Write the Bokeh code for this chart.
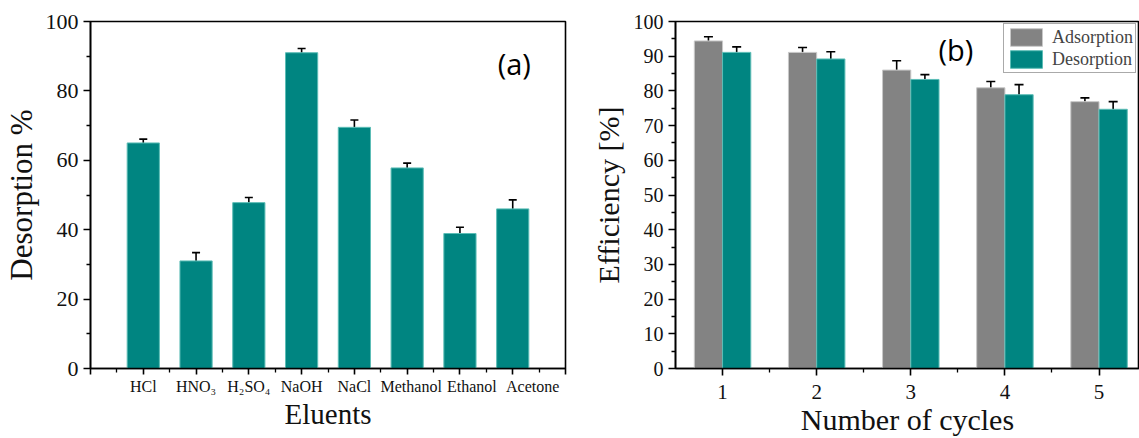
from bokeh.plotting import figure
from bokeh.layouts import row
from bokeh.models import (ColumnDataSource, FixedTicker, Range1d, Whisker, TeeHead,
                          Legend, LegendItem, Label)
from bokeh.embed import file_html
from bokeh.resources import INLINE

# ---------------- data ----------------
eluents = ["HCl", "HNO₃", "H₂SO₄", "NaOH", "NaCl", "Methanol", "Ethanol", "Acetone"]
desorption_pct = [65.0, 31.0, 47.8, 91.0, 69.5, 57.8, 38.9, 46.0]
desorption_err = [1.1, 2.4, 1.5, 1.2, 2.1, 1.4, 1.8, 2.6]

cycles = [1, 2, 3, 4, 5]
adsorption_eff = [94.4, 91.1, 86.0, 80.9, 76.9]
adsorption_err = [1.2, 1.4, 2.7, 1.8, 1.1]
desorption_eff = [91.1, 89.2, 83.3, 78.9, 74.7]
desorption_eff_err = [1.6, 2.1, 1.4, 2.9, 2.2]

TEAL = "#008581"
TEAL_EDGE = "#5cbdb6"
GRAY = "#838383"
GRAY_EDGE = "#c8c8c8"
SERIF = "Liberation Serif"

# leading en-spaces nudge the crowded right-hand labels the way the original does
label_nudge = ["", "", "", "", "", "\u2002", "\u2002\u2002\u2002", "\u2002\u2002\u2002\u2002\u2002"]


def style_axes(p):
    for ax in (p.xaxis[0], p.yaxis[0]):
        ax.axis_line_color = "black"
        ax.axis_line_width = 1.6
        ax.major_tick_line_color = "black"
        ax.major_tick_line_width = 1.6
        ax.minor_tick_line_color = "black"
        ax.minor_tick_line_width = 1.3
        ax.major_tick_in = 0
        ax.major_tick_out = 7
        ax.minor_tick_in = 0
        ax.minor_tick_out = 4
        ax.major_label_text_font = SERIF
        ax.major_label_text_color = "#111111"
        ax.axis_label_text_font = SERIF
        ax.axis_label_text_font_style = "normal"
        ax.axis_label_text_color = "#111111"
    p.xgrid.visible = False
    p.ygrid.visible = False
    p.outline_line_color = "black"
    p.outline_line_width = 1.6
    p.background_fill_color = "white"
    p.border_fill_color = "white"


# ---------------- panel (a) ----------------
xa = list(range(1, len(eluents) + 1))
src_a = ColumnDataSource(dict(
    x=xa, top=desorption_pct,
    upper=[v + e for v, e in zip(desorption_pct, desorption_err)],
    lower=[v - e for v, e in zip(desorption_pct, desorption_err)],
))

p1 = figure(width=570, height=438, output_backend="svg", toolbar_location=None,
            x_range=Range1d(0, 9), y_range=Range1d(0, 100),
            min_border_left=90, min_border_right=5, min_border_top=21, min_border_bottom=66)
p1.vbar(x="x", top="top", width=0.61, bottom=0, source=src_a,
        fill_color=TEAL, line_color=TEAL_EDGE, line_width=1)
p1.add_layout(Whisker(source=src_a, base="x", upper="upper", lower="lower",
                      line_color="black", line_width=1.6,
                      upper_head=TeeHead(size=8, line_width=1.6, line_color="black"),
                      lower_head=TeeHead(size=8, line_width=1.6, line_color="black")))
style_axes(p1)
p1.xaxis.ticker = FixedTicker(ticks=list(range(0, 10)),
                              minor_ticks=[i + 0.5 for i in range(0, 9)])
overrides = {0: "", 9: ""}
for i, name in enumerate(eluents):
    overrides[i + 1] = label_nudge[i] + name
p1.xaxis.major_label_overrides = overrides
p1.xaxis.major_label_text_font_size = "16px"
p1.xaxis.major_label_standoff = 3
p1.xaxis.major_tick_out = 6
p1.yaxis.ticker = FixedTicker(ticks=[0, 20, 40, 60, 80, 100],
                              minor_ticks=[10, 30, 50, 70, 90])
p1.yaxis.major_label_text_font_size = "22px"
p1.yaxis.major_label_standoff = 5
p1.xaxis.axis_label = "Eluents"
p1.xaxis.axis_label_text_font_size = "29px"
p1.xaxis.axis_label_standoff = 0
p1.yaxis.axis_label = "Desorption %"
p1.yaxis.axis_label_text_font_size = "31px"
p1.yaxis.axis_label_standoff = 4
p1.add_layout(Label(x=8.03, y=88, text="(a)", text_font="Open Sans",
                    text_font_size="29px", text_color="black", text_align="center",
                    text_baseline="middle"))

# ---------------- panel (b) ----------------
xb_ads = [c - 0.15 for c in cycles]
xb_des = [c + 0.15 for c in cycles]
src_ads = ColumnDataSource(dict(
    x=xb_ads, top=adsorption_eff,
    upper=[v + e for v, e in zip(adsorption_eff, adsorption_err)],
    lower=[v - e for v, e in zip(adsorption_eff, adsorption_err)],
))
src_des = ColumnDataSource(dict(
    x=xb_des, top=desorption_eff,
    upper=[v + e for v, e in zip(desorption_eff, desorption_eff_err)],
    lower=[v - e for v, e in zip(desorption_eff, desorption_eff_err)],
))

p2 = figure(width=569, height=438, output_backend="svg", toolbar_location=None,
            x_range=Range1d(0.5, 5.43), y_range=Range1d(0, 100),
            min_border_left=105, min_border_right=0, min_border_top=21, min_border_bottom=70)
r_ads = p2.vbar(x="x", top="top", width=0.3, bottom=0, source=src_ads,
                fill_color=GRAY, line_color=GRAY_EDGE, line_width=1)
r_des = p2.vbar(x="x", top="top", width=0.3, bottom=0, source=src_des,
                fill_color=TEAL, line_color=TEAL_EDGE, line_width=1)
for s in (src_ads, src_des):
    p2.add_layout(Whisker(source=s, base="x", upper="upper", lower="lower",
                          line_color="black", line_width=1.6,
                          upper_head=TeeHead(size=9, line_width=1.6, line_color="black"),
                          lower_head=TeeHead(size=9, line_width=1.6, line_color="black")))
style_axes(p2)
p2.xaxis.ticker = FixedTicker(ticks=cycles, minor_ticks=[1.5, 2.5, 3.5, 4.5, 5.5])
p2.xaxis.major_label_text_font_size = "21px"
p2.xaxis.major_label_standoff = 9
p2.yaxis.ticker = FixedTicker(ticks=list(range(0, 101, 10)),
                              minor_ticks=list(range(5, 100, 10)))
p2.yaxis.major_label_text_font_size = "20px"
p2.yaxis.major_label_standoff = 5
p2.xaxis.axis_label = "Number of cycles"
p2.xaxis.axis_label_text_font_size = "30px"
p2.xaxis.axis_label_standoff = 1
p2.yaxis.axis_label = "Efficiency [%]"
p2.yaxis.axis_label_text_font_size = "30px"
p2.yaxis.axis_label_standoff = 6
p2.add_layout(Label(x=3.48, y=92, text="(b)", text_font="Open Sans",
                    text_font_size="29px", text_color="black", text_align="center",
                    text_baseline="middle"))

legend = Legend(items=[LegendItem(label="Adsorption", renderers=[r_ads]),
                       LegendItem(label="Desorption", renderers=[r_des])],
                location=(328, 295), orientation="vertical",
                glyph_width=40, glyph_height=22, spacing=0, padding=2, margin=0,
                label_standoff=6, label_text_font=SERIF, label_text_font_size="18px",
                label_height=22,
                border_line_color="#555555", border_line_width=1.2,
                background_fill_color="white", background_fill_alpha=1)
p2.add_layout(legend)

layout = row(p1, p2, spacing=0)
open("out.html", "w").write(file_html(layout, INLINE))
